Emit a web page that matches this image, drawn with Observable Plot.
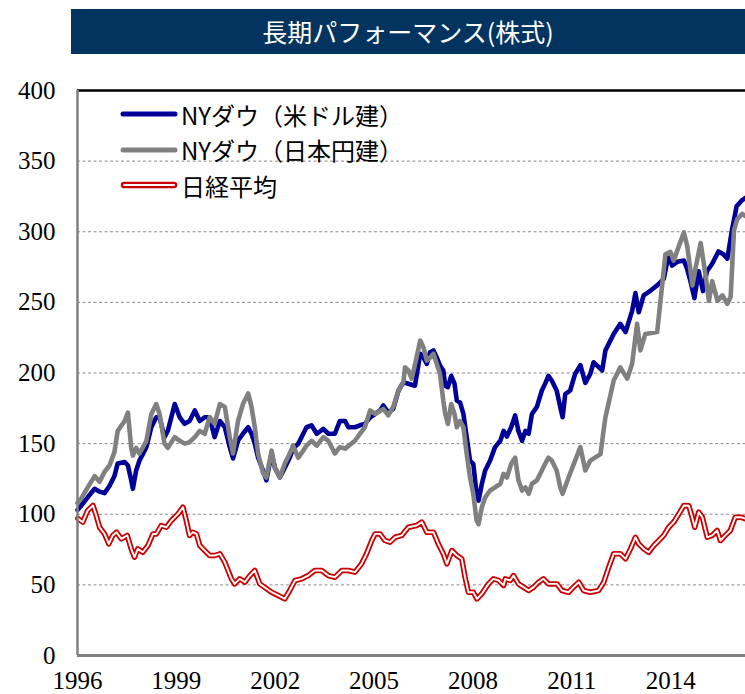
<!DOCTYPE html>
<html>
<head>
<meta charset="utf-8">
<script src="https://cdn.jsdelivr.net/npm/d3@7"></script>
<script src="https://cdn.jsdelivr.net/npm/@observablehq/plot@0.6"></script>
<style>
  html, body { margin: 0; padding: 0; background: #fff; }
  #wrap { position: relative; width: 745px; height: 694px; overflow: hidden; }
  #title { position: absolute; left: 71px; top: 9px; width: 674px; height: 45px; background: #03345f;
           color: #fff; font-family: "Noto Sans CJK JP", sans-serif; font-size: 25px; line-height: 45px; text-align: center; }
  #chart { position: absolute; left: 0; top: 60px; }
  .leg { position: absolute; left: 120px; height: 34px; display: flex; align-items: center;
         font-family: "Noto Sans CJK JP", sans-serif; font-size: 24px; color: #000; white-space: nowrap; }
  .leg svg { margin-right: 3px; }
</style>
</head>
<body>
<div id="wrap">
  <div id="title">長期パフォーマンス(株式)</div>
  <div id="chart"></div>
</div>
<script>
// ---- data ----
const seriesNames = ["NYダウ（米ドル建）", "NYダウ（日本円建）", "日経平均"];
const xTicks = [1996, 1999, 2002, 2005, 2008, 2011, 2014];
const yTicks = [0, 50, 100, 150, 200, 250, 300, 350, 400];
const gridValues = [50, 100, 150, 200, 250, 300, 350];

const usdX = [1996.00,1996.11,1996.31,1996.52,1996.67,1996.82,1996.97,1997.12,1997.22,1997.43,1997.53,1997.63,1997.68,1997.78,1997.88,1998.09,1998.24,1998.39,1998.49,1998.64,1998.74,1998.95,1999.10,1999.25,1999.40,1999.56,1999.71,1999.86,2000.01,2000.16,2000.32,2000.47,2000.62,2000.72,2000.87,2001.02,2001.18,2001.28,2001.38,2001.48,2001.63,2001.73,2001.89,2001.99,2002.14,2002.29,2002.44,2002.54,2002.70,2002.85,2002.95,2003.10,2003.26,2003.46,2003.61,2003.81,2003.96,2004.12,2004.22,2004.42,2004.57,2004.72,2004.88,2005.03,2005.18,2005.28,2005.43,2005.58,2005.74,2005.89,2006.04,2006.24,2006.40,2006.50,2006.60,2006.70,2006.80,2006.90,2007.00,2007.10,2007.16,2007.24,2007.34,2007.44,2007.51,2007.61,2007.71,2007.81,2007.91,2008.01,2008.11,2008.17,2008.27,2008.37,2008.52,2008.67,2008.83,2008.93,2009.03,2009.16,2009.28,2009.38,2009.49,2009.59,2009.69,2009.79,2009.94,2010.09,2010.19,2010.29,2010.39,2010.54,2010.65,2010.72,2010.80,2010.95,2011.10,2011.26,2011.41,2011.56,2011.66,2011.92,2012.02,2012.27,2012.47,2012.63,2012.83,2012.93,2013.03,2013.18,2013.39,2013.59,2013.79,2013.94,2014.04,2014.20,2014.40,2014.50,2014.60,2014.72,2014.85,2014.98,2015.10,2015.25,2015.45,2015.60,2015.72,2015.85,2016.00,2016.15,2016.27];
const usdY = [103,106,112,118,116,115,120,127,136,137,134.5,124,118,131,138,147.5,161.6,168.7,168.7,154.6,159,178,168.7,164,166,173.5,166,168.7,168.7,154.6,166,161.6,147.5,139.5,152,157,161.6,157,150,140,131,124,143,133,126,133,140,146.5,150,157,161.6,163,157,160.4,157,157,166,166,161.6,161.6,163,164,168.7,171,173.5,177,172,174.6,187.6,193.5,192.4,191,213.6,211,206.5,214.7,216,211,205.3,201.8,191,190,198,192.4,180.5,179,171,154.6,138,135.7,114.5,109.7,121.6,131,138,147.5,152,159,155,161.6,170,159,152,159,157,171,176,187.6,192.4,198,194.7,187.6,175.8,168.7,185,187.6,199.4,205.5,193,199.4,207.6,201.8,216,227.6,234.8,229,244,256.6,243,254.9,258.4,262,266.7,284,276,278.7,279.6,273.6,265,253,272,258,272,277,286,284,281,300,318,322,324];

const jpyX = [1996.00,1996.11,1996.31,1996.52,1996.67,1996.82,1996.97,1997.12,1997.22,1997.43,1997.53,1997.63,1997.68,1997.78,1997.88,1998.09,1998.24,1998.39,1998.49,1998.64,1998.74,1998.95,1999.10,1999.25,1999.40,1999.56,1999.71,1999.86,2000.01,2000.16,2000.32,2000.47,2000.62,2000.72,2000.87,2001.02,2001.18,2001.28,2001.38,2001.48,2001.63,2001.73,2001.89,2001.99,2002.14,2002.29,2002.44,2002.54,2002.70,2002.85,2002.95,2003.10,2003.26,2003.46,2003.61,2003.81,2003.96,2004.12,2004.42,2004.57,2004.72,2004.88,2005.03,2005.28,2005.43,2005.58,2005.74,2005.89,2005.94,2006.04,2006.14,2006.24,2006.40,2006.50,2006.60,2006.70,2006.80,2006.90,2007.00,2007.10,2007.16,2007.24,2007.34,2007.44,2007.51,2007.61,2007.71,2007.81,2007.91,2008.01,2008.11,2008.17,2008.27,2008.37,2008.52,2008.67,2008.83,2008.93,2009.03,2009.16,2009.28,2009.38,2009.49,2009.59,2009.69,2009.79,2009.94,2010.09,2010.19,2010.29,2010.39,2010.54,2010.65,2010.72,2010.90,2011.10,2011.26,2011.41,2011.56,2011.87,2011.97,2012.02,2012.27,2012.47,2012.68,2012.83,2012.98,2013.08,2013.23,2013.59,2013.84,2013.99,2014.09,2014.25,2014.40,2014.50,2014.66,2014.76,2014.91,2015.06,2015.16,2015.26,2015.42,2015.57,2015.72,2015.82,2015.92,2016.02,2016.17,2016.27];
const jpyY = [108,111,119,127,123,130,134.5,144,159,166,172,147,141.6,147,143,152,171,178,171,150,147,154.6,152,150,151,154.6,159,157,168.7,164,178,176,154.6,143,166,178,185.5,176,161.6,143,129,126,145,133,126,136,143,148.6,140,145,148.6,152,148.6,154.6,152,143,147.5,146.5,152,157,161.6,173.5,171,174.6,170,176,187.6,193.5,204,201.8,196,206,223,218,208.8,211,213.6,206.5,199.4,180.5,171,164,178,171,161.6,166,161.6,142.6,126,114.5,95.6,93,105,112,116.8,119,121.6,128.6,126,135.7,140,124,116.8,119,114.5,121.6,124,131,135.7,140,138,131,119,114.5,126,138,147.5,131,138,142.6,160.4,168.7,194.7,204,196,206.5,234.8,216,227.6,229,284,285.8,279.6,290,299.5,290,262,275,292,269,251,265,251,255,249,254,301,309,312.6,311];

const nikkeiX = [1996.01,1996.16,1996.31,1996.47,1996.57,1996.67,1996.82,1996.95,1997.07,1997.18,1997.33,1997.51,1997.63,1997.73,1997.83,1997.98,1998.14,1998.29,1998.39,1998.54,1998.70,1998.85,1999.05,1999.20,1999.30,1999.40,1999.50,1999.61,1999.71,1999.86,2000.01,2000.16,2000.32,2000.47,2000.67,2000.77,2000.92,2001.08,2001.23,2001.38,2001.53,2001.74,2001.89,2002.09,2002.29,2002.44,2002.60,2002.80,2003.00,2003.20,2003.41,2003.61,2003.81,2004.02,2004.22,2004.42,2004.62,2004.77,2004.93,2005.03,2005.18,2005.33,2005.48,2005.64,2005.84,2006.04,2006.29,2006.45,2006.60,2006.80,2006.95,2007.10,2007.21,2007.36,2007.51,2007.66,2007.76,2007.86,2008.01,2008.12,2008.27,2008.47,2008.62,2008.78,2008.93,2008.98,2009.13,2009.23,2009.38,2009.53,2009.69,2009.84,2009.99,2010.14,2010.29,2010.55,2010.70,2010.90,2011.05,2011.21,2011.36,2011.56,2011.81,2011.97,2012.12,2012.27,2012.47,2012.63,2012.78,2012.93,2013.03,2013.18,2013.33,2013.49,2013.64,2013.79,2013.94,2014.09,2014.25,2014.40,2014.55,2014.65,2014.73,2014.85,2014.96,2015.11,2015.26,2015.41,2015.51,2015.66,2015.81,2015.96,2016.12,2016.27];
const nikkeiY = [97,94.4,102.7,106.2,99,90.8,86.1,79,85,87.3,82.6,85,75.5,69.6,75.5,73.1,77.9,86.1,86,92,90.8,95.6,100.3,105,95.6,85,87.3,86.1,77.9,74.3,70.8,70.8,72,66,54.3,50.7,54.3,51.9,56.6,60.2,50.7,47.2,44.8,42.5,40.1,46,53.1,54.3,56.6,60.2,60.2,56.6,55.4,60.2,60.2,59,64.9,72,81.4,86.1,86.1,81.4,80.2,83.7,85,90.8,92,94.4,87.3,87.3,79,72,64.9,74.3,70.8,68.4,55.4,44.8,44.8,40.1,43.7,50.7,54.3,53.1,49.6,54.3,53.1,56.6,50.7,48.4,46,48.4,51.9,54.3,50.7,50.7,46,44.8,48.4,51.9,46,44.8,46,51.9,62.5,72,72,68.4,75.5,83.7,79,75.5,73.1,77.9,81.4,85,90.8,94.4,100.3,106.2,106,97.9,90.8,101.5,97.9,83.7,85,88.5,81.4,85,88.5,97.9,97.9,96.8];

const colors = { usd: "#000099", jpy: "#808080", nikkei: "#cc0000" };

// ---- tables ----
const usd = usdX.map((x, i) => ({ x, y: usdY[i] }));
const jpy = jpyX.map((x, i) => ({ x, y: jpyY[i] }));
const nikkei = nikkeiX.map((x, i) => ({ x, y: nikkeiY[i] }));

const chart = Plot.plot({
  width: 745,
  height: 634,
  marginLeft: 77,
  marginRight: 0,
  marginTop: 30,
  marginBottom: 39,
  style: { fontFamily: "'Liberation Serif', serif", fontSize: "25px", color: "#000", background: "transparent", overflow: "visible" },
  x: { domain: [1996, 2016.27] },
  y: { domain: [0, 400] },
  marks: [
    Plot.ruleY(gridValues, { stroke: "#8c8c8c", strokeWidth: 1, strokeDasharray: "3,2.5" }),
    Plot.ruleY([400], { stroke: "#000", strokeWidth: 2.5 }),
    Plot.line(usd, { x: "x", y: "y", stroke: colors.usd, strokeWidth: 4.6, strokeLinejoin: "round", strokeLinecap: "round" }),
    Plot.line(jpy, { x: "x", y: "y", stroke: colors.jpy, strokeWidth: 4.6, strokeLinejoin: "round", strokeLinecap: "round" }),
    Plot.line(nikkei, { x: "x", y: "y", stroke: colors.nikkei, strokeWidth: 5.5, strokeLinejoin: "round", strokeLinecap: "round" }),
    Plot.line(nikkei, { x: "x", y: "y", stroke: "#fff", strokeWidth: 1.9, strokeLinejoin: "round", strokeLinecap: "round" }),
    Plot.ruleY([0], { stroke: "#808080", strokeWidth: 3 }),
    Plot.ruleX([1996], { y1: 0, y2: 400, stroke: "#808080", strokeWidth: 2.5 }),
    Plot.axisY({ ticks: yTicks, tickSize: 0, tickPadding: 22, label: null, tickFormat: d => String(d) }),
    Plot.axisX({ ticks: xTicks, tickSize: 0, tickPadding: 16, label: null, tickFormat: d => String(d) })
  ]
});
chart.style.display = "block";
document.getElementById("chart").appendChild(chart);

// ---- legend (HTML overlay) ----
const wrap = document.getElementById("wrap");
const legendRows = [
  { name: seriesNames[0], kind: "solid", color: colors.usd },
  { name: seriesNames[1], kind: "solid", color: colors.jpy },
  { name: seriesNames[2], kind: "double", color: colors.nikkei }
];
const rowCenters = [114, 149.5, 185];
legendRows.forEach((r, i) => {
  const div = document.createElement("div");
  div.className = "leg";
  div.style.top = (rowCenters[i] - 17) + "px";
  const sw = d3.create("svg").attr("width", 58).attr("height", 12);
  if (r.kind === "solid") {
    sw.append("line").attr("x1", 3).attr("x2", 55).attr("y1", 6).attr("y2", 6)
      .attr("stroke", r.color).attr("stroke-width", 5).attr("stroke-linecap", "round");
  } else {
    sw.append("line").attr("x1", 4).attr("x2", 54).attr("y1", 6).attr("y2", 6)
      .attr("stroke", r.color).attr("stroke-width", 6.5).attr("stroke-linecap", "round");
    sw.append("line").attr("x1", 4).attr("x2", 54).attr("y1", 6).attr("y2", 6)
      .attr("stroke", "#fff").attr("stroke-width", 2.2).attr("stroke-linecap", "round");
  }
  div.appendChild(sw.node());
  const span = document.createElement("span");
  span.textContent = r.name;
  div.appendChild(span);
  wrap.appendChild(div);
});
</script>
</body>
</html>
